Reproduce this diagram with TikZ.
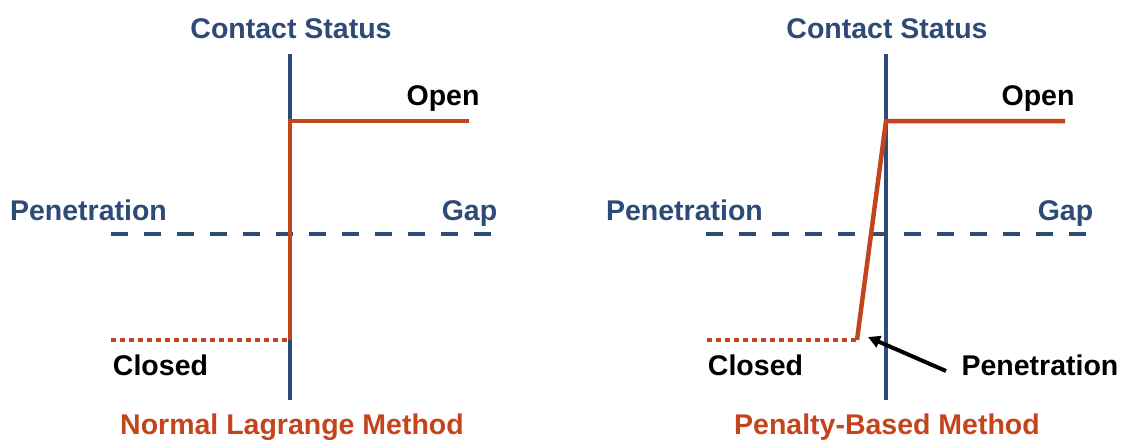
\documentclass[tikz,border=0pt]{standalone}
\usepackage{fontspec}
\setmainfont{Liberation Sans}
\usetikzlibrary{arrows.meta}
\definecolor{axisblue}{RGB}{46,74,118}
\definecolor{curvered}{RGB}{196,68,30}
\begin{document}
\begin{tikzpicture}[x=1pt,y=-1pt,
  lbl/.style={inner sep=0pt,anchor=base,font=\bfseries\fontsize{28.5}{34}\selectfont},
  bluelbl/.style={lbl,text=axisblue},
  blacklbl/.style={lbl,text=black},
  titlelbl/.style={lbl,text=curvered},
  axisline/.style={draw=axisblue,line width=4.5pt},
  gapline/.style={draw=axisblue,line width=4.5pt,dash pattern=on 17pt off 16pt},
  statusline/.style={draw=curvered,line width=4.5pt,line join=miter},
  closedline/.style={draw=curvered,line width=4.5pt,dash pattern=on 4.5pt off 4.5pt},
  pointer/.style={draw=black,line width=4pt,-{Triangle[length=12pt,width=12pt]}}]
\useasboundingbox (0,0) rectangle (1128,440);

% ---------- Normal Lagrange Method ----------
\coordinate (La) at (290,54);
\coordinate (Lb) at (290,400);
\coordinate (Lo) at (290,121);
\coordinate (Le) at (469,121);
\coordinate (Lc) at (290,340);
\coordinate (Ld) at (111,340);
\coordinate (Lg1) at (111,234);
\coordinate (Lg2) at (492,234);

\node[bluelbl] (Lcs) at (291,38) {Contact Status};
\node[blacklbl] (Lopen) at (443,105) {Open};
\node[bluelbl] (Lpen) at (88.5,220) {Penetration};
\node[bluelbl] (Lgap) at (469.5,220) {Gap};
\node[blacklbl] (Lclosed) at (160.5,375) {Closed};
\node[titlelbl] (Ltitle) at (292,434) {Normal Lagrange Method};

\draw[axisline] (La) -- (Lb);
\draw[gapline] (Lg1) -- (Lg2);
\draw[closedline] (Ld) -- (Lc);
\draw[statusline] (Lc) -- (Lo) -- (Le);

% ---------- Penalty-Based Method ----------
\coordinate (Ra) at (886,54);
\coordinate (Rb) at (886,400);
\coordinate (Ro) at (886,121);
\coordinate (Re) at (1065,121);
\coordinate (Rc) at (857,340);
\coordinate (Rd) at (707,340);
\coordinate (Rg1) at (706,234);
\coordinate (Rg2) at (1088,234);
\coordinate (Rtail) at (946,371);
\coordinate (Rtip) at (868,337);

\node[bluelbl] (Rcs) at (887,38) {Contact Status};
\node[blacklbl] (Ropen) at (1038,105) {Open};
\node[bluelbl] (Rpen) at (684.5,220) {Penetration};
\node[bluelbl] (Rgap) at (1065.5,220) {Gap};
\node[blacklbl] (Rclosed) at (755.5,375) {Closed};
\node[blacklbl] (Rpenlbl) at (1040,375) {Penetration};
\node[titlelbl] (Rtitle) at (887,434) {Penalty-Based Method};

\draw[axisline] (Ra) -- (Rb);
\draw[gapline] (Rg1) -- (Rg2);
\draw[closedline] (Rd) -- (Rc);
\draw[statusline] (Rc) -- (Ro) -- (Re);
\draw[pointer] (Rtail) -- (Rtip);
\end{tikzpicture}
\end{document}
